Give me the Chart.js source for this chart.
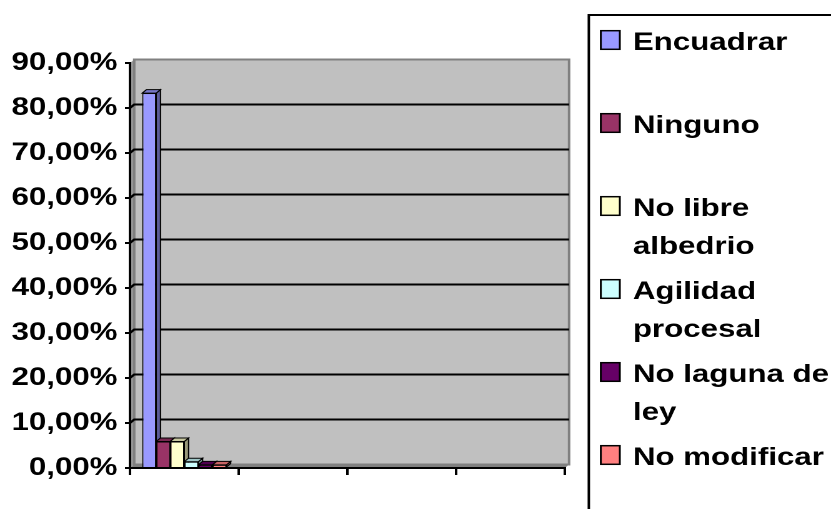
<!DOCTYPE html>
<html lang="es">
<head>
    <meta charset="UTF-8">
    <title>Encuadrar</title>
    <script src="https://cdn.jsdelivr.net/npm/chart.js"></script>
    <style>
        body {
            margin: 0;
            background: #ffffff;
            overflow: hidden;
        }
        /* the original picture is stretched sideways, so draw narrow and scale */
        .stretch {
            width: 665px;
            height: 509px;
            transform: scale(1.2496, 1);
            transform-origin: 0 0;
        }
    </style>
</head>
<body>
    <div class="stretch">
        <canvas id="myChart" width="665" height="509"></canvas>
    </div>

    <script>
        // Datos
        const categories = ['', '', '', ''];
        const seriesNames = ['Encuadrar', 'Ninguno', 'No libre albedrio', 'Agilidad procesal', 'No laguna de ley', 'No modificar'];
        const seriesValues = [83.3, 5.9, 5.9, 1.4, 0.7, 0.7];
        const yMax = 90;
        const yStep = 10;

        const colors = ['#9999FF', '#993366', '#FFFFCC', '#CCFFFF', '#660066', '#FF8080'];
        const font = { family: "'Liberation Sans', Arial, sans-serif", size: 25, weight: 'bold' };
        const depthX = 3.4, depthY = 3.5;

        function shade(hex, f) {
            const n = parseInt(hex.slice(1), 16);
            const r = Math.round(((n >> 16) & 255) * f);
            const g = Math.round(((n >> 8) & 255) * f);
            const b = Math.round((n & 255) * f);
            return `rgb(${r},${g},${b})`;
        }

        function poly(ctx, pts, fill, stroke, lw) {
            ctx.beginPath();
            ctx.moveTo(pts[0][0], pts[0][1]);
            for (let i = 1; i < pts.length; i++) ctx.lineTo(pts[i][0], pts[i][1]);
            ctx.closePath();
            ctx.fillStyle = fill;
            ctx.fill();
            if (stroke) {
                ctx.strokeStyle = stroke;
                ctx.lineWidth = lw;
                ctx.stroke();
            }
        }

        // pared del fondo, piso y lineas de division
        const wallPlugin = {
            id: 'wall',
            beforeDraw(chart) {
                const { ctx, chartArea: a } = chart;
                const y = chart.scales.y;
                ctx.save();
                poly(ctx, [[a.left, a.top], [a.left + depthX, a.top - depthY], [a.left + depthX, a.bottom - depthY], [a.left, a.bottom]], '#9a9a9a');
                poly(ctx, [[a.left, a.bottom], [a.left + depthX, a.bottom - depthY], [a.right + depthX, a.bottom - depthY], [a.right, a.bottom]], '#808080');
                ctx.fillStyle = '#C0C0C0';
                ctx.fillRect(a.left + depthX, a.top - depthY, a.right - a.left, a.bottom - a.top);
                ctx.strokeStyle = '#808080';
                ctx.lineWidth = 2;
                ctx.strokeRect(a.left + depthX, a.top - depthY, a.right - a.left, a.bottom - a.top);

                ctx.strokeStyle = '#000';
                ctx.lineWidth = 2;
                for (let v = yStep; v < yMax; v += yStep) {
                    const py = y.getPixelForValue(v);
                    ctx.beginPath();
                    ctx.moveTo(a.left, py);
                    ctx.lineTo(a.left + depthX, py - depthY);
                    ctx.lineTo(a.right + depthX, py - depthY);
                    ctx.stroke();
                }
                ctx.restore();
            },
            // caras de arriba y del costado de cada barra
            beforeDatasetsDraw(chart) {
                const ctx = chart.ctx;
                ctx.save();
                chart.data.datasets.forEach((ds, i) => {
                    chart.getDatasetMeta(i).data.forEach(bar => {
                        const { x, y, base, width } = bar.getProps(['x', 'y', 'base', 'width'], true);
                        const l = x - width / 2, r = x + width / 2;
                        poly(ctx, [[r, y], [r + depthX, y - depthY], [r + depthX, base - depthY], [r, base]], shade(colors[i], 0.6), '#000', 1);
                        poly(ctx, [[l, y], [l + depthX, y - depthY], [r + depthX, y - depthY], [r, y]], shade(colors[i], 0.78), '#000', 1);
                    });
                });
                ctx.restore();
            }
        };

        // leyenda a la derecha, con texto partido en varias lineas
        const legendPlugin = {
            id: 'sideLegend',
            afterDraw(chart) {
                const ctx = chart.ctx;
                ctx.save();
                ctx.strokeStyle = '#000';
                ctx.lineWidth = 2;
                ctx.strokeRect(471.2, 15, 400, 600);
                ctx.font = `bold ${font.size}px ${font.family}`;
                ctx.textBaseline = 'alphabetic';
                chart.data.datasets.forEach((ds, i) => {
                    const base = 50 + i * 83;
                    const words = ds.label.split(' ');
                    const lines = [];
                    let cur = '';
                    words.forEach(w => {
                        const t = cur ? cur + ' ' + w : w;
                        if (cur && ctx.measureText(t).width > 162) {
                            lines.push(cur);
                            cur = w;
                        } else {
                            cur = t;
                        }
                    });
                    lines.push(cur);
                    ctx.fillStyle = colors[i];
                    ctx.fillRect(480.8, base - 19.3, 15.2, 18.6);
                    ctx.strokeStyle = '#000';
                    ctx.lineWidth = 1.5;
                    ctx.strokeRect(480.8, base - 19.3, 15.2, 18.6);
                    ctx.fillStyle = '#000';
                    lines.forEach((ln, k) => ctx.fillText(ln, 506.5, base + k * 38));
                });
                ctx.restore();
            }
        };

        const ctx = document.getElementById('myChart').getContext('2d');
        new Chart(ctx, {
            type: 'bar',
            data: {
                labels: categories,
                datasets: seriesNames.map((name, i) => ({
                    label: name,
                    data: [seriesValues[i]],
                    backgroundColor: colors[i],
                    borderColor: '#000',
                    borderWidth: 1,
                    categoryPercentage: 0.775,
                    barPercentage: 1.0
                }))
            },
            options: {
                responsive: false,
                animation: false,
                devicePixelRatio: 2,
                layout: { padding: { left: 0, top: 63, right: 213, bottom: 29 } },
                plugins: {
                    legend: { display: false },
                    tooltip: { enabled: false }
                },
                scales: {
                    x: {
                        grid: { drawOnChartArea: false, drawTicks: true, tickLength: 7, color: '#000', lineWidth: 2 },
                        border: { color: '#000', width: 2 },
                        ticks: { display: false },
                        afterFit(scale) { scale.height = 12; }
                    },
                    y: {
                        min: 0,
                        max: yMax,
                        grid: { drawOnChartArea: false, drawTicks: true, tickLength: 4, color: '#000', lineWidth: 2 },
                        border: { color: '#000', width: 2 },
                        ticks: {
                            stepSize: yStep,
                            color: '#000',
                            font: font,
                            padding: 6,
                            callback: v => v.toFixed(2).replace('.', ',') + '%'
                        },
                        afterFit(scale) { scale.width = 104; }
                    }
                }
            },
            plugins: [wallPlugin, legendPlugin]
        });
    </script>
</body>
</html>
